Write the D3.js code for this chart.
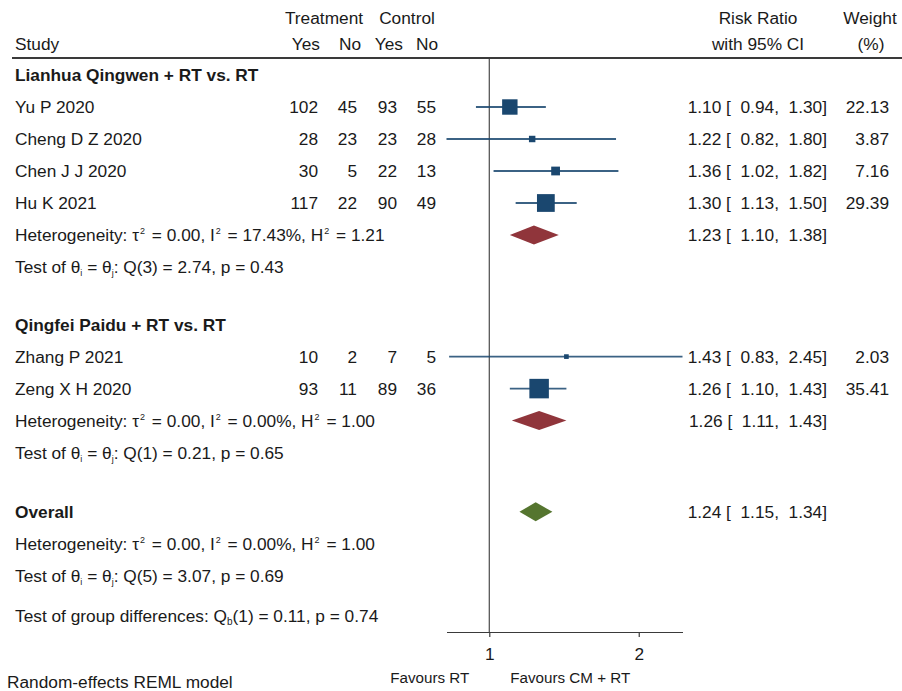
<!DOCTYPE html>
<html><head><meta charset="utf-8">
<script src="https://cdn.jsdelivr.net/npm/d3@7"></script>
<style>body{margin:0;background:#fff}svg{display:block}text{font-family:"Liberation Sans",Arial,sans-serif;fill:#1a1a1a}</style>
</head><body>
<script>
// ---- data ----
const studies = ["Yu P 2020","Cheng D Z 2020","Chen J J 2020","Hu K 2021","Zhang P 2021","Zeng X H 2020"];
const studyGroup = [0,0,0,0,1,1];
const trtYes = [102,28,30,117,10,93];
const trtNo  = [45,23,5,22,2,11];
const ctlYes = [93,23,22,90,7,89];
const ctlNo  = [55,28,13,49,5,36];
const rr     = [1.10,1.22,1.36,1.30,1.43,1.26];
const rrLo   = [0.94,0.82,1.02,1.13,0.83,1.10];
const rrHi   = [1.30,1.80,1.82,1.50,2.45,1.43];
const weight = [22.13,3.87,7.16,29.39,2.03,35.41];

const groups   = ["Lianhua Qingwen + RT vs. RT","Qingfei Paidu + RT vs. RT"];
const grpRR    = [1.23,1.26];
const grpLo    = [1.10,1.11];
const grpHi    = [1.38,1.43];
const grpTau2  = ["0.00","0.00"];
const grpI2    = ["17.43","0.00"];
const grpH2    = ["1.21","1.00"];
const grpQdf   = [3,1];
const grpQ     = ["2.74","0.21"];
const grpP     = ["0.43","0.65"];

const overall  = {rr:1.24, lo:1.15, hi:1.34, tau2:"0.00", i2:"0.00", h2:"1.00", df:5, q:"3.07", p:"0.69"};
const groupDiff = {df:1, q:"0.11", p:"0.74"};
const tickValues = [1,2];

// ---- layout ----
const W = 902, H = 691, FS = 17.3;
const svg = d3.select("body").append("svg").attr("width",W).attr("height",H);
const x = d3.scaleLog().domain([d3.min(rrLo), d3.max(rrHi)]).range([446.5, 682.5]);
const y = d3.scaleLinear().domain([0,1]).range([75,107]);
const size = d3.scaleSqrt().domain([0, d3.max(weight)]).range([0, 19.5]);
const f2 = d3.format(".2f");
const navy = "#1a476f", maroon = "#90353b", green = "#55752f";

// build rows
const rows = [];
let idx = 0;
groups.forEach((g,gi)=>{
  if (gi>0) idx += 1.8;
  rows.push({type:"group", i:idx++, g:gi});
  studies.forEach((s,si)=>{ if (studyGroup[si]===gi) rows.push({type:"study", i:idx++, s:si}); });
  rows.push({type:"gsum", i:idx++, g:gi});
  rows.push({type:"gtest", i:idx, g:gi});
});
idx += 1.85;
rows.push({type:"overall", i:idx++});
rows.push({type:"ohet", i:idx++});
rows.push({type:"otest", i:idx});
idx += 1.25;
rows.push({type:"gdiff", i:idx});

function txt(xp, yp, s, anchor, bold, fs){
  return svg.append("text").attr("x",xp).attr("y",yp).attr("dy","0.36em")
    .attr("text-anchor",anchor||"start").attr("font-size",fs||FS)
    .attr("font-weight",bold?"bold":null).style("white-space","pre").text(s);
}
function hetText(yp, tau2, i2, h2){
  const t = svg.append("text").attr("x",15).attr("y",yp).attr("dy","0.36em").attr("font-size",FS);
  const parts = [["Heterogeneity: τ",0],["2",1],[" = "+tau2+", I",0],["2",1],[" = "+i2+"%, H",0],["2",1],[" = "+h2,0]];
  parts.forEach(([s,sup],k)=>{
    const ts = t.append("tspan").style("white-space","pre").text(s);
    if (sup) ts.attr("font-size",9).attr("dy",-7).attr("dx",1);
    else if (k>0) ts.attr("dy",7).attr("dx",2);
  });
}
function testText(yp, df, q, p){
  const t = svg.append("text").attr("x",15).attr("y",yp).attr("dy","0.36em").attr("font-size",FS);
  t.append("tspan").text("Test of θ");
  t.append("tspan").attr("font-size",9).attr("dy",3).text("i");
  t.append("tspan").attr("dy",-3).text(" = θ");
  t.append("tspan").attr("font-size",9).attr("dy",3).text("j");
  t.append("tspan").attr("dy",-3).text(": Q("+df+") = "+q+", p = "+p);
}
function diamond(yp, est, lo, hi, col){
  const h = 9.5;
  svg.append("path").attr("fill",col)
    .attr("d",`M${x(lo)},${yp}L${x(est)},${yp-h}L${x(hi)},${yp}L${x(est)},${yp+h}Z`);
}
function ciText(yp, est, lo, hi){
  txt(827, yp, f2(est)+" [  "+f2(lo)+",  "+f2(hi)+"]", "end");
}

// headers
txt(324, 18, "Treatment", "middle");
txt(407, 18, "Control", "middle");
txt(15, 44, "Study");
txt(320, 44, "Yes", "end"); txt(361, 44, "No", "end");
txt(403, 44, "Yes", "end"); txt(438, 44, "No", "end");
txt(758, 18, "Risk Ratio", "middle");
txt(758, 44, "with 95% CI", "middle");
txt(870, 18, "Weight", "middle");
txt(871, 44, "(%)", "middle");
svg.append("line").attr("x1",12).attr("x2",W).attr("y1",58).attr("y2",58)
  .attr("stroke","#3a3a3a").attr("stroke-width",2);

// null line
svg.append("line").attr("x1",x(1)).attr("x2",x(1)).attr("y1",59).attr("y2",632)
  .attr("stroke","#4a4a4a").attr("stroke-width",1.2);

rows.forEach(r=>{
  const yp = y(r.i);
  if (r.type==="group") txt(15, yp, groups[r.g], "start", true);
  else if (r.type==="study"){
    const s = r.s;
    txt(15, yp, studies[s]);
    txt(318, yp, trtYes[s], "end"); txt(357, yp, trtNo[s], "end");
    txt(397, yp, ctlYes[s], "end"); txt(436, yp, ctlNo[s], "end");
    svg.append("line").attr("x1",x(rrLo[s])).attr("x2",x(rrHi[s])).attr("y1",yp).attr("y2",yp)
      .attr("stroke",navy).attr("stroke-width",1.8).attr("opacity",0.85);
    const sz = size(weight[s]);
    svg.append("rect").attr("x",x(rr[s])-sz/2).attr("y",yp-sz/2).attr("width",sz).attr("height",sz).attr("fill",navy);
    ciText(yp, rr[s], rrLo[s], rrHi[s]);
    txt(889, yp, f2(weight[s]), "end");
  } else if (r.type==="gsum"){
    hetText(yp, grpTau2[r.g], grpI2[r.g], grpH2[r.g]);
    diamond(yp, grpRR[r.g], grpLo[r.g], grpHi[r.g], maroon);
    ciText(yp, grpRR[r.g], grpLo[r.g], grpHi[r.g]);
  } else if (r.type==="gtest"){
    testText(yp, grpQdf[r.g], grpQ[r.g], grpP[r.g]);
  } else if (r.type==="overall"){
    txt(15, yp, "Overall", "start", true);
    diamond(yp, overall.rr, overall.lo, overall.hi, green);
    ciText(yp, overall.rr, overall.lo, overall.hi);
  } else if (r.type==="ohet"){
    hetText(yp, overall.tau2, overall.i2, overall.h2);
  } else if (r.type==="otest"){
    testText(yp, overall.df, overall.q, overall.p);
  } else if (r.type==="gdiff"){
    const t = svg.append("text").attr("x",15).attr("y",yp).attr("dy","0.36em").attr("font-size",FS);
    t.append("tspan").text("Test of group differences: Q");
    t.append("tspan").attr("font-size",10).attr("dy",3).text("b");
    t.append("tspan").attr("dy",-3).text("("+groupDiff.df+") = "+groupDiff.q+", p = "+groupDiff.p);
  }
});

// axis
const ax = svg.append("g").attr("transform","translate(0,632)")
  .call(d3.axisBottom(x).tickValues(tickValues).tickFormat(d3.format("d")).tickSize(5).tickSizeOuter(0).tickPadding(11));
ax.select(".domain").attr("stroke","#3a3a3a").attr("stroke-width",1.2);
ax.selectAll(".tick line").attr("stroke","#3a3a3a").attr("stroke-width",1.2);
ax.selectAll(".tick text").attr("font-size",FS).attr("font-family","Liberation Sans, Arial, sans-serif").attr("fill","#1a1a1a");

txt(x(1)-20, 678, "Favours RT", "end", false, 15.2);
txt(x(1)+21, 678, "Favours CM + RT", "start", false, 15.2);
txt(7, 682, "Random-effects REML model");
</script>
</body></html>
